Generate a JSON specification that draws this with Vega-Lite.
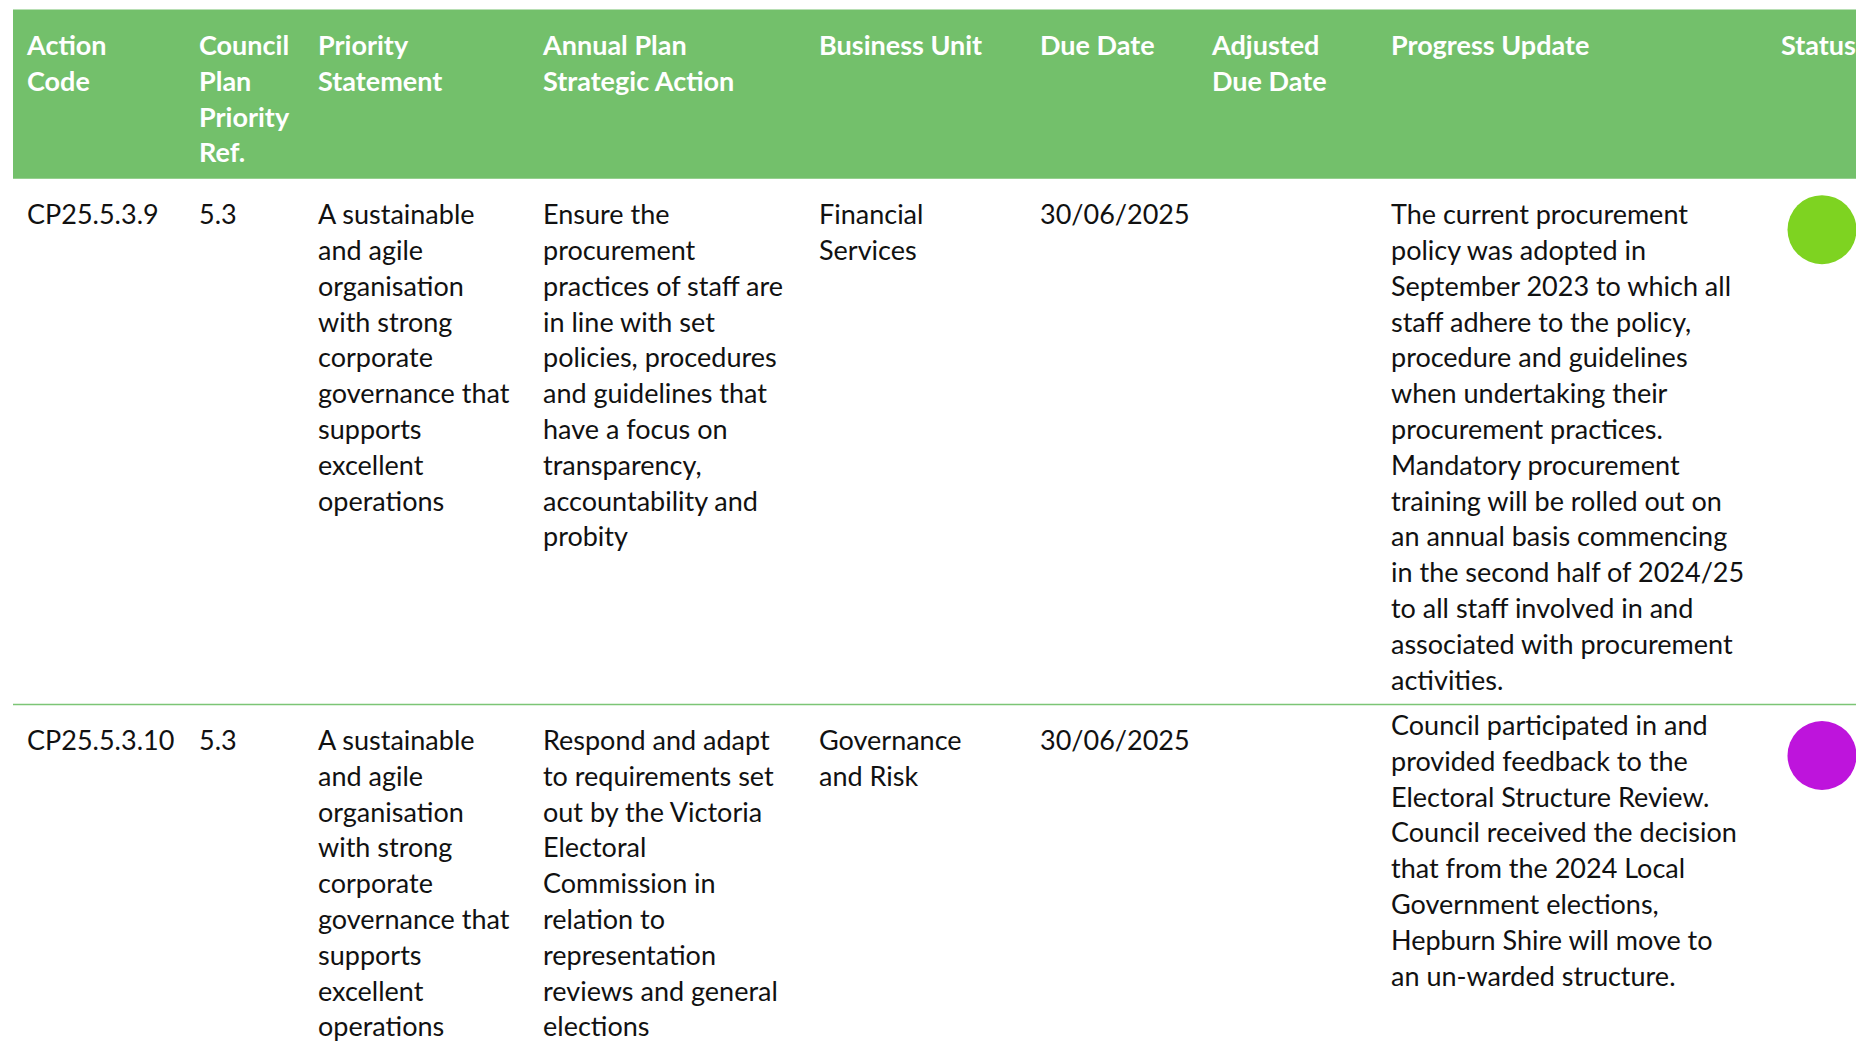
{
  "$schema": "https://vega.github.io/schema/vega-lite/v6.json",
  "autosize": {"type": "fit", "contains": "padding"},
  "width": 1856,
  "height": 1048,
  "padding": 0,
  "background": "#ffffff",
  "config": {"view": {"stroke": null}},
  "datasets": {
    "cells": [
      {"row": 0, "col": 1, "text": "Action\nCode"},
      {"row": 0, "col": 2, "text": "Council\nPlan\nPriority\nRef."},
      {"row": 0, "col": 3, "text": "Priority\nStatement"},
      {"row": 0, "col": 4, "text": "Annual Plan\nStrategic Action"},
      {"row": 0, "col": 5, "text": "Business Unit"},
      {"row": 0, "col": 6, "text": "Due Date"},
      {"row": 0, "col": 7, "text": "Adjusted\nDue Date"},
      {"row": 0, "col": 8, "text": "Progress Update"},
      {"row": 0, "col": 9, "text": "Status"},
      {"row": 1, "col": 1, "text": "CP25.5.3.9"},
      {"row": 1, "col": 2, "text": "5.3"},
      {"row": 1, "col": 3, "text": "A sustainable\nand agile\norganisation\nwith strong\ncorporate\ngovernance that\nsupports\nexcellent\noperations"},
      {"row": 1, "col": 4, "text": "Ensure the\nprocurement\npractices of staff are\nin line with set\npolicies, procedures\nand guidelines that\nhave a focus on\ntransparency,\naccountability and\nprobity"},
      {"row": 1, "col": 5, "text": "Financial\nServices"},
      {"row": 1, "col": 6, "text": "30/06/2025"},
      {"row": 1, "col": 8, "text": "The current procurement\npolicy was adopted in\nSeptember 2023 to which all\nstaff adhere to the policy,\nprocedure and guidelines\nwhen undertaking their\nprocurement practices.\nMandatory procurement\ntraining will be rolled out on\nan annual basis commencing\nin the second half of 2024/25\nto all staff involved in and\nassociated with procurement\nactivities."},
      {"row": 2, "col": 1, "text": "CP25.5.3.10"},
      {"row": 2, "col": 2, "text": "5.3"},
      {"row": 2, "col": 3, "text": "A sustainable\nand agile\norganisation\nwith strong\ncorporate\ngovernance that\nsupports\nexcellent\noperations"},
      {"row": 2, "col": 4, "text": "Respond and adapt\nto requirements set\nout by the Victoria\nElectoral\nCommission in\nrelation to\nrepresentation\nreviews and general\nelections"},
      {"row": 2, "col": 5, "text": "Governance\nand Risk"},
      {"row": 2, "col": 6, "text": "30/06/2025"},
      {"row": 2, "col": 8, "text": "Council participated in and\nprovided feedback to the\nElectoral Structure Review.\nCouncil received the decision\nthat from the 2024 Local\nGovernment elections,\nHepburn Shire will move to\nan un-warded structure."}
    ],
    "status": [
      {"row": 1, "col": 9, "status": "On Track"},
      {"row": 2, "col": 9, "status": "Completed"}
    ]
  },
  "layer": [
    {
      "data": {"values": [{"part": "header"}]},
      "mark": {"type": "rect", "color": "#73C06B"},
      "encoding": {
        "x": {"datum": 1, "type": "quantitative", "axis": null, "scale": {"domain": [1, 2, 3, 4, 5, 6, 7, 8, 9, 10], "range": [13, 185, 304, 529, 805, 1026, 1198, 1377, 1767, 1900], "nice": false, "zero": false}},
        "x2": {"datum": 10},
        "y": {"datum": 0, "type": "quantitative", "axis": null, "scale": {"domain": [0, 1, 2, 3], "range": [9.5, 178.7, 704.5, 1200], "nice": false, "zero": false}},
        "y2": {"datum": 1}
      }
    },
    {
      "data": {"values": [{"part": "separator"}]},
      "mark": {"type": "rule", "color": "#7CC576", "strokeWidth": 1.5},
      "encoding": {
        "x": {"datum": 1, "type": "quantitative"},
        "x2": {"datum": 10},
        "y": {"datum": 2, "type": "quantitative"}
      }
    },
    {
      "data": {"name": "cells"},
      "transform": [{"filter": "datum.row == 0"}],
      "mark": {"type": "text", "align": "left", "baseline": "top", "lineBreak": "\n", "lineHeight": 35.8, "font": "Lato", "fontSize": 27, "fontWeight": "bold", "color": "#ffffff", "dx": 14, "dy": 24.5},
      "encoding": {
        "x": {"field": "col", "type": "quantitative"},
        "y": {"field": "row", "type": "quantitative"},
        "text": {"field": "text"}
      }
    },
    {
      "data": {"name": "cells"},
      "transform": [{"filter": "datum.row > 0 && !(datum.row == 2 && datum.col == 8)"}],
      "mark": {"type": "text", "align": "left", "baseline": "top", "lineBreak": "\n", "lineHeight": 35.8, "font": "Lato", "fontSize": 27, "color": "#111111", "dx": 14, "dy": 24.5},
      "encoding": {
        "x": {"field": "col", "type": "quantitative"},
        "y": {"field": "row", "type": "quantitative"},
        "text": {"field": "text"}
      }
    },
    {
      "data": {"name": "cells"},
      "transform": [{"filter": "datum.row == 2 && datum.col == 8"}],
      "mark": {"type": "text", "align": "left", "baseline": "top", "lineBreak": "\n", "lineHeight": 35.8, "font": "Lato", "fontSize": 27, "color": "#111111", "dx": 14, "dy": 9.5},
      "encoding": {
        "x": {"field": "col", "type": "quantitative"},
        "y": {"field": "row", "type": "quantitative"},
        "text": {"field": "text"}
      }
    },
    {
      "data": {"name": "status"},
      "mark": {"type": "point", "shape": "circle", "filled": true, "opacity": 1, "size": 4761, "xOffset": 55, "yOffset": 51},
      "encoding": {
        "x": {"field": "col", "type": "quantitative"},
        "y": {"field": "row", "type": "quantitative"},
        "color": {"field": "status", "type": "nominal", "legend": null, "scale": {"domain": ["On Track", "Completed"], "range": ["#7ED321", "#BE14DC"]}}
      }
    }
  ]
}
